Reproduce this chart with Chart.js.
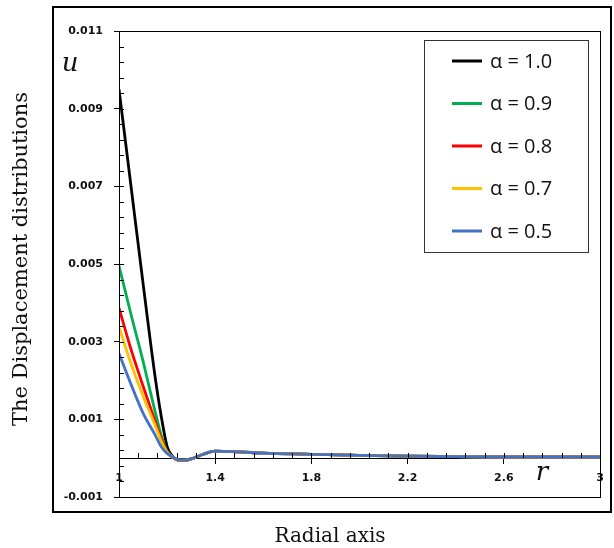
<!DOCTYPE html>
<html>
<head>
<meta charset="utf-8">
<script src="https://cdn.jsdelivr.net/npm/chart.js@4"></script>
<style>
  body { margin: 0; background: #fff; }
  #wrap { width: 614px; height: 548px; }
</style>
</head>
<body>
<div id="wrap"><canvas id="dispChart"></canvas></div>
<script>
// radial positions r and displacement u for each fractional order alpha
var radius = [1, 1.05, 1.1, 1.15, 1.175, 1.2, 1.225, 1.25, 1.275, 1.3, 1.35, 1.4, 1.5, 1.6, 1.8, 2.0, 2.2, 2.4, 2.6, 2.8, 3.0];
var alphaLabels = ["α = 1.0", "α = 0.9", "α = 0.8", "α = 0.7", "α = 0.5"];
var alphaColors = ["#000000", "#00b050", "#ff0000", "#ffc000", "#4472c4"];

var uAlpha10 = [0.0095, 0.0070, 0.0045, 0.0021, 0.0011, 0.0003, 0.00003, -0.00005, -0.00005, -0.00002, 0.0001, 0.00018, 0.00016, 0.00013, 0.0001, 0.00007, 0.00005, 0.00004, 0.00003, 0.00003, 0.00003];
var uAlpha09 = [0.00495, 0.0037, 0.0025, 0.0012, 0.0006, 0.00018, 0.00002, -0.00005, -0.00005, -0.00002, 0.0001, 0.00018, 0.00016, 0.00013, 0.0001, 0.00007, 0.00005, 0.00004, 0.00003, 0.00003, 0.00003];
var uAlpha08 = [0.00387, 0.0028, 0.00186, 0.00095, 0.0005, 0.00016, 0.00001, -0.00006, -0.00006, -0.00002, 0.0001, 0.00018, 0.00016, 0.00013, 0.0001, 0.00007, 0.00005, 0.00004, 0.00003, 0.00003, 0.00003];
var uAlpha07 = [0.00338, 0.00243, 0.0016, 0.00085, 0.00045, 0.00015, 0.00001, -0.00005, -0.00005, -0.00002, 0.0001, 0.00018, 0.00016, 0.00013, 0.0001, 0.00007, 0.00005, 0.00004, 0.00003, 0.00003, 0.00003];
var uAlpha05 = [0.0027, 0.0019, 0.00116, 0.0006, 0.0003, 0.00012, 0.00002, -0.00005, -0.00005, -0.00002, 0.0001, 0.00018, 0.00016, 0.00013, 0.0001, 0.00007, 0.00005, 0.00004, 0.00003, 0.00003, 0.00003];

var uSeries = [uAlpha10, uAlpha09, uAlpha08, uAlpha07, uAlpha05];

var yTickMin = -0.001;
var yTickMax = 0.011;
var xTickMin = 1;
var xTickMax = 3;

function toPoints(values) {
  return values.map(function (u, i) {
    return { x: radius[i], y: u };
  });
}

var datasets = uSeries.map(function (values, i) {
  return {
    label: alphaLabels[i],
    data: toPoints(values),
    borderColor: alphaColors[i],
    backgroundColor: alphaColors[i],
    borderWidth: 2.8,
    pointRadius: 0,
    cubicInterpolationMode: "monotone",
    order: uSeries.length - i
  };
});

var decorPlugin = {
  id: "decor",
  beforeDraw: function (chart) {
    var ctx = chart.ctx;
    ctx.save();
    ctx.fillStyle = "#fff";
    ctx.fillRect(0, 0, chart.width, chart.height);
    ctx.restore();
  },
  afterDraw: function (chart) {
    var ctx = chart.ctx;
    var area = chart.chartArea;
    var xs = chart.scales.x;
    var ys = chart.scales.y;
    ctx.save();

    // box round the plot
    ctx.strokeStyle = "#000";
    ctx.lineWidth = 1;
    ctx.strokeRect(area.left + 0.5, area.top + 0.5, area.right - area.left, area.bottom - area.top);

    // inner tick marks
    ctx.beginPath();
    ys.ticks.forEach(function (t) {
      var py = Math.round(ys.getPixelForValue(t.value)) + 0.5;
      ctx.moveTo(area.left, py);
      ctx.lineTo(area.left + 5, py);
    });
    var zeroY = Math.round(ys.getPixelForValue(0));
    xs.ticks.forEach(function (t) {
      var px = Math.round(xs.getPixelForValue(t.value)) + 0.5;
      ctx.moveTo(px, zeroY);
      ctx.lineTo(px, zeroY - 5);
    });
    ctx.stroke();

    // outer frame
    ctx.lineWidth = 2;
    ctx.strokeRect(53, 7, 558, 505);

    // axis titles
    ctx.fillStyle = "#111";
    ctx.font = "20px 'DejaVu Serif'";
    ctx.textAlign = "center";
    ctx.textBaseline = "middle";
    ctx.fillText("Radial axis", 330, 537);
    ctx.save();
    ctx.translate(22, 259);
    ctx.rotate(-Math.PI / 2);
    ctx.font = "21px 'DejaVu Serif'";
    ctx.fillText("The Displacement distributions", 0, 0);
    ctx.restore();

    ctx.font = "italic 26px 'DejaVu Serif'";
    ctx.fillText("u", 70, 64);
    ctx.fillText("r", 542, 473);

    // legend
    ctx.lineWidth = 1;
    ctx.strokeStyle = "#333";
    ctx.strokeRect(424.5, 40.5, 164, 212);
    ctx.textAlign = "left";
    ctx.font = "20px 'Open Sans'";
    chart.data.datasets.forEach(function (ds, i) {
      var ly = 61 + i * 42.5;
      ctx.strokeStyle = ds.borderColor;
      ctx.lineWidth = 3;
      ctx.beginPath();
      ctx.moveTo(452, ly);
      ctx.lineTo(482, ly);
      ctx.stroke();
      ctx.fillStyle = "#111";
      ctx.fillText(ds.label, 490, ly + 1);
    });

    ctx.restore();
  }
};

var ctxD = document.getElementById("dispChart").getContext("2d");
var dispChart = new Chart(ctxD, {
  type: "line",
  data: { datasets: datasets },
  plugins: [decorPlugin],
  options: {
    responsive: true,
    maintainAspectRatio: false,
    animation: false,
    layout: { padding: { left: 0, top: 31, right: 14, bottom: 51 } },
    plugins: {
      legend: { display: false },
      tooltip: { enabled: false }
    },
    scales: {
      x: {
        type: "linear",
        position: { y: 0 },
        min: xTickMin,
        max: xTickMax,
        grid: {
          drawOnChartArea: false,
          tickLength: 5,
          color: function (c) { return c.index % 5 === 0 ? "#000" : "rgba(0,0,0,0)"; }
        },
        border: { display: true, color: "#000", width: 1 },
        ticks: {
          stepSize: 0.08,
          autoSkip: false,
          maxRotation: 0,
          maxTicksLimit: 100,
          padding: 8,
          color: "#111",
          font: { family: "DejaVu Sans", size: 11, weight: "bold" },
          callback: function (value, index) {
            return index % 5 === 0 ? String(+value.toFixed(1)) : "";
          }
        }
      },
      y: {
        type: "linear",
        position: "left",
        min: yTickMin,
        max: yTickMax,
        afterFit: function (scale) { scale.width = 119; },
        grid: {
          drawOnChartArea: false,
          tickLength: 5,
          color: function (c) { return c.index % 5 === 0 ? "#000" : "rgba(0,0,0,0)"; }
        },
        border: { display: true, color: "#000", width: 1 },
        ticks: {
          stepSize: 0.0004,
          autoSkip: false,
          maxTicksLimit: 100,
          padding: 11,
          color: "#111",
          font: { family: "DejaVu Sans", size: 11, weight: "bold" },
          callback: function (value, index) {
            return index % 5 === 0 ? value.toFixed(3) : "";
          }
        }
      }
    }
  }
});
</script>
</body>
</html>
